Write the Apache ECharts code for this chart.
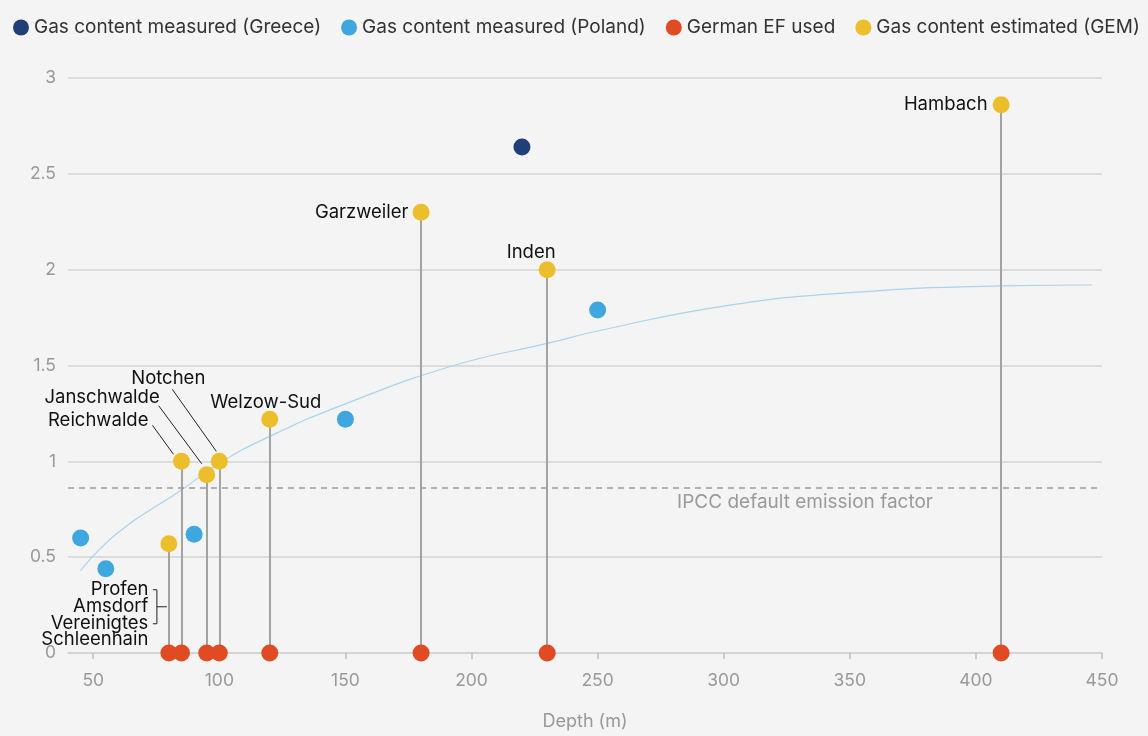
<!DOCTYPE html>
<html>
<head>
<meta charset="utf-8">
<script src="https://cdn.jsdelivr.net/npm/echarts@6/dist/echarts.min.js"></script>
<style>
html, body { margin: 0; padding: 0; background: #f4f4f4; }
#chart { width: 1148px; height: 736px; }
</style>
</head>
<body>
<div id="chart"></div>
<script>
// values
var greeceX = [220];
var greeceY = [2.64];
var polandX = [45, 55, 90, 150, 250];
var polandY = [0.60, 0.44, 0.62, 1.22, 1.79];
var germanX = [80, 85, 95, 100, 120, 180, 230, 410];
var germanY = [0, 0, 0, 0, 0, 0, 0, 0];
var gemX = [80, 85, 95, 100, 120, 180, 230, 410];
var gemY = [0.57, 1.00, 0.93, 1.00, 1.22, 2.30, 2.00, 2.86];
var gemNames = ['Profen\nAmsdorf\nVereinigtes\nSchleenhain', 'Reichwalde', 'Janschwalde', 'Notchen',
    'Welzow-Sud', 'Garzweiler', 'Inden', 'Hambach'];
var trendX = [45, 60, 85, 100, 120, 150, 193, 230, 250, 300, 350, 410, 446];
var trendY = [0.43, 0.63, 0.85, 0.99, 1.13, 1.30, 1.50, 1.615, 1.68, 1.81, 1.88, 1.915, 1.92];
var ipccValue = 0.86;
var xTicks = [50, 100, 150, 200, 250, 300, 350, 400, 450];
var legendNames = ['Gas content measured (Greece)', 'Gas content measured (Poland)', 'German EF used', 'Gas content estimated (GEM)'];

var font = 'Inter, "Noto Sans", sans-serif';

// where each GEM name sits next to its dot
var labelPlace = {
    0: { position: 'left', offset: [-7, 71], lineHeight: 16.7 },
    1: { position: 'left', offset: [-19.5, -41] },
    2: { position: 'left', offset: [-33.5, -77] },
    3: { position: 'left', offset: [-0.5, -83] },
    4: { position: 'top', distance: -1, offset: [-4, 0] },
    5: { position: 'left', distance: 4 },
    6: { position: 'top', distance: -1, offset: [-16, 0] },
    7: { position: 'left', distance: 5 }
};

function pairs(xs, ys) {
    return xs.map(function (x, i) { return [x, ys[i]]; });
}

var gemData = gemX.map(function (x, i) {
    return {
        name: gemNames[i],
        value: [x, gemY[i]],
        label: Object.assign({ show: true, formatter: '{b}' }, labelPlace[i])
    };
});

var stems = gemX.map(function (x, i) {
    return [{ coord: [x, 0] }, { coord: [x, gemY[i]] }];
});

var chart = echarts.init(document.getElementById('chart'));
var option = {
    backgroundColor: '#f4f4f4',
    textStyle: { fontFamily: font },
    legend: {
        data: legendNames,
        left: 8,
        top: 13,
        icon: 'circle',
        itemWidth: 16,
        itemHeight: 16,
        itemGap: 20,
        textStyle: { fontSize: 19, color: '#333', fontFamily: font }
    },
    grid: { left: 68, right: 46, top: 78, bottom: 79 },
    xAxis: {
        type: 'value',
        min: 40,
        max: 450,
        name: 'Depth (m)',
        nameLocation: 'middle',
        nameGap: 60,
        nameTextStyle: { fontSize: 18, color: '#999', fontFamily: font },
        axisLine: { show: true, lineStyle: { color: '#cfcfcf', width: 1.5 } },
        axisTick: { show: true, customValues: xTicks, length: 6, lineStyle: { color: '#bdbdbd', width: 1.5 } },
        axisLabel: { customValues: xTicks, margin: 19, fontSize: 17.5, color: '#999', fontFamily: font },
        splitLine: { show: false }
    },
    yAxis: {
        type: 'value',
        min: 0,
        max: 3,
        interval: 0.5,
        axisLine: { show: false },
        axisTick: { show: false },
        axisLabel: { margin: 12, fontSize: 17.5, color: '#999', fontFamily: font },
        splitLine: { lineStyle: { color: '#d4d4d4', width: 1.5 } }
    },
    series: [
        {
            name: 'trend',
            type: 'line',
            data: pairs(trendX, trendY),
            smooth: true,
            showSymbol: false,
            silent: true,
            z: 1,
            lineStyle: { color: '#a9d3ee', width: 1.2 },
            markLine: {
                silent: true,
                symbol: ['none', 'none'],
                animation: false,
                label: { show: false },
                lineStyle: { color: '#a3a3a3', width: 2, type: 'solid' },
                data: stems.concat([{
                    yAxis: ipccValue,
                    lineStyle: { color: '#9a9a9a', width: 1.5, type: [6, 5] },
                    label: {
                        show: true,
                        position: 'insideEndBottom',
                        distance: [169, 5],
                        formatter: 'IPCC default emission factor',
                        fontSize: 19,
                        color: '#9a9a9a',
                        fontFamily: font
                    }
                }])
            }
        },
        {
            name: legendNames[0],
            type: 'scatter',
            data: pairs(greeceX, greeceY),
            symbolSize: 17,
            z: 5,
            itemStyle: { color: '#1f3f77', opacity: 1 }
        },
        {
            name: legendNames[1],
            type: 'scatter',
            data: pairs(polandX, polandY),
            symbolSize: 17,
            z: 5,
            itemStyle: { color: '#3fa7df', opacity: 1 }
        },
        {
            name: legendNames[2],
            type: 'scatter',
            data: pairs(germanX, germanY),
            symbolSize: 17,
            z: 5,
            itemStyle: { color: '#e04b23', opacity: 1 }
        },
        {
            name: legendNames[3],
            type: 'scatter',
            data: gemData,
            symbolSize: 17,
            z: 5,
            itemStyle: { color: '#edbe2c', opacity: 1 },
            label: { fontSize: 18.5, color: '#111', fontFamily: font }
        }
    ]
};
chart.setOption(option);

// leader lines and bracket, placed relative to the dots' pixel positions
function dotPx(i) {
    return chart.convertToPixel({ gridIndex: 0 }, [gemX[i], gemY[i]]);
}
var leaders = [
    [1, [-8, -7], [-29, -36]],
    [2, [-5, -11], [-48, -69]],
    [3, [-3, -10], [-47, -72]]
];
var graphics = leaders.map(function (l) {
    var p = dotPx(l[0]);
    return {
        type: 'line',
        silent: true,
        shape: { x1: p[0] + l[1][0], y1: p[1] + l[1][1], x2: p[0] + l[2][0], y2: p[1] + l[2][1] },
        style: { stroke: '#222', lineWidth: 1 }
    };
});
var b = dotPx(0);
graphics.push({
    type: 'polyline',
    silent: true,
    shape: { points: [[b[0] - 16, b[1] + 46], [b[0] - 12, b[1] + 46], [b[0] - 12, b[1] + 80], [b[0] - 16, b[1] + 80]] },
    style: { stroke: '#222', lineWidth: 1, fill: null }
});
graphics.push({
    type: 'line',
    silent: true,
    shape: { x1: b[0] - 12, y1: b[1] + 63, x2: b[0] - 2, y2: b[1] + 63 },
    style: { stroke: '#222', lineWidth: 1 }
});
chart.setOption({ graphic: graphics });
</script>
</body>
</html>
